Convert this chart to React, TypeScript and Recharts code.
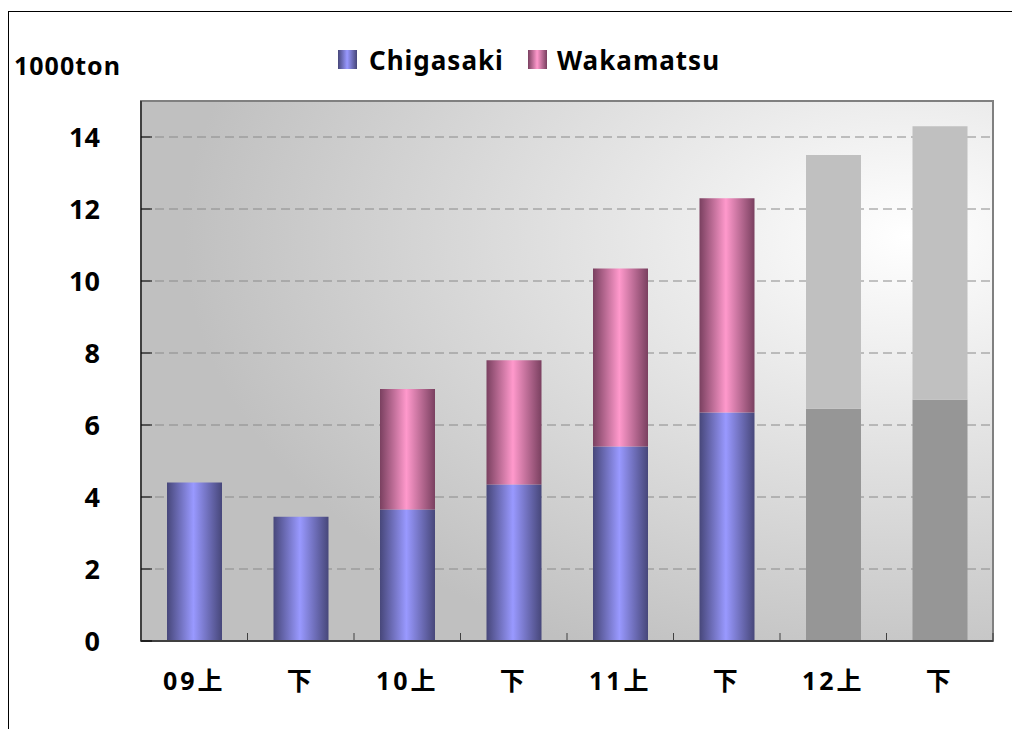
import React from "react";
import { BarChart, Bar, XAxis, YAxis, CartesianGrid, ReferenceArea, Cell } from "recharts";

const periods = ["09上", "下", "10上", "下", "11上", "下", "12上", "下"];
const chigasaki = [4.4, 3.45, 3.65, 4.35, 5.4, 6.35, 6.45, 6.7];
const wakamatsu = [0, 0, 3.35, 3.45, 4.95, 5.95, 7.05, 7.6];
const forecast = [false, false, false, false, false, false, true, true];
const yTicks = [0, 2, 4, 6, 8, 10, 12, 14];

const data = periods.map((period, i) => ({
  period,
  chigasaki: chigasaki[i],
  wakamatsu: wakamatsu[i],
  forecast: forecast[i],
}));

const W = 1006;
const H = 720;
const M = { top: 89, right: 22, left: 72, bottom: 41 };
const Y_W = 60;
const BAND = (W - M.left - Y_W - M.right) / periods.length;
const FONT = '"Noto Sans", "Noto Sans CJK JP", sans-serif';

function XTick(props: any) {
  const { x, y, payload } = props;
  return (
    <g>
      <line x1={x + BAND / 2} x2={x + BAND / 2} y1={y} y2={y - 8} stroke="#404040" strokeWidth={1} />
      <text
        x={x}
        y={y + 49}
        textAnchor="middle"
        fontFamily={FONT}
        fontWeight="bold"
        fontSize={25}
        letterSpacing={3}
        fill="#000"
      >
        {payload.value}
      </text>
    </g>
  );
}

function Gradients() {
  return (
    <>
      <linearGradient id="blue" x1="0" y1="0" x2="1" y2="0">
        <stop offset="0%" stopColor="#47477a" />
        <stop offset="48%" stopColor="#9999ff" />
        <stop offset="100%" stopColor="#47477a" />
      </linearGradient>
      <linearGradient id="pink" x1="0" y1="0" x2="1" y2="0">
        <stop offset="0%" stopColor="#7a4060" />
        <stop offset="48%" stopColor="#ff99cc" />
        <stop offset="100%" stopColor="#7a4060" />
      </linearGradient>
    </>
  );
}

export default function App() {
  return (
    <div
      style={{
        position: "relative",
        marginTop: 3,
        width: 1006,
        height: 730,
        border: "1px solid #000",
        boxShadow: "2px 2px 0 #808080",
        background: "#fff",
        overflow: "hidden",
      }}
    >
      <BarChart width={W} height={H} data={data} margin={M} barSize={55}>
        <defs>
          <Gradients />
          <radialGradient id="bg" cx="0.9" cy="0.25" r="0.85">
            <stop offset="0%" stopColor="#ffffff" />
            <stop offset="100%" stopColor="#c0c0c0" />
          </radialGradient>
        </defs>
        <CartesianGrid
          vertical={false}
          horizontal={{ shapeRendering: "crispEdges" } as any}
          fill="url(#bg)"
          stroke="#8a8a8a"
          strokeDasharray="9 5"
          fillOpacity={1}
        />
        <ReferenceArea y1={0} y2={15} fill="none" stroke="#808080" strokeWidth={2} ifOverflow="visible" />
        <XAxis
          dataKey="period"
          tick={<XTick />}
          tickLine={false}
          tickSize={0}
          tickMargin={0}
          height={50}
          axisLine={{ stroke: "#404040", strokeWidth: 2 }}
        />
        <YAxis
          domain={[0, 15]}
          ticks={yTicks}
          width={Y_W}
          tickSize={-11}
          tickMargin={52}
          tickLine={{ stroke: "#000", strokeWidth: 1 }}
          axisLine={{ stroke: "#404040", strokeWidth: 2 }}
          tick={{ fontFamily: FONT, fontWeight: "bold", fontSize: 27, fill: "#000" }}
        />
        <Bar dataKey="chigasaki" stackId="a" fill="url(#blue)" isAnimationActive={false}>
          {data.map((d, i) => (
            <Cell key={i} fill={d.forecast ? "#969696" : "url(#blue)"} />
          ))}
        </Bar>
        <Bar dataKey="wakamatsu" stackId="a" fill="url(#pink)" isAnimationActive={false}>
          {data.map((d, i) => (
            <Cell key={i} fill={d.forecast ? "#c0c0c0" : "url(#pink)"} />
          ))}
        </Bar>
      </BarChart>
      <svg
        width={W}
        height={100}
        style={{ position: "absolute", left: 0, top: 0, pointerEvents: "none" }}
      >
        <defs>
          <Gradients />
        </defs>
        <text x={5} y={63} fontFamily={FONT} fontWeight="bold" fontSize={25} letterSpacing={1} fill="#000">
          1000ton
        </text>
        <rect x={329} y={38} width={19} height={19} fill="url(#blue)" />
        <text x={360} y={58} fontFamily={FONT} fontWeight="bold" fontSize={26} letterSpacing={1} fill="#000">
          Chigasaki
        </text>
        <rect x={519} y={38} width={19} height={19} fill="url(#pink)" />
        <text x={548} y={58} fontFamily={FONT} fontWeight="bold" fontSize={26} letterSpacing={1} fill="#000">
          Wakamatsu
        </text>
      </svg>
    </div>
  );
}
